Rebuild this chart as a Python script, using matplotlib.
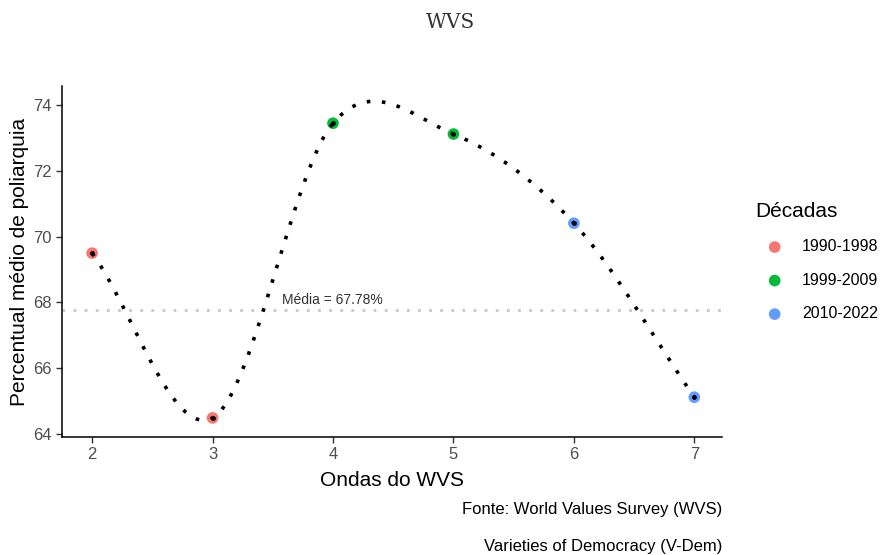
import numpy as np
import matplotlib.pyplot as plt

plt.rcParams["font.family"] = ["Liberation Sans", "DejaVu Sans"]

ondas = np.array([2, 3, 4, 5, 6, 7])
poliarquia = np.array([69.50, 64.49, 73.45, 73.12, 70.41, 65.12])
decadas = ["1990-1998", "1990-1998", "1999-2009", "1999-2009", "2010-2022", "2010-2022"]
media = 67.78
cores = {"1990-1998": "#F8766D", "1999-2009": "#00BA38", "2010-2022": "#619CFF"}


def catmull_rom(x, y, n=40):
    # spline que passa pelos pontos (como geom_xspline)
    xp = np.r_[2 * x[0] - x[1], x, 2 * x[-1] - x[-2]]
    yp = np.r_[2 * y[0] - y[1], y, 2 * y[-1] - y[-2]]
    xs, ys = [], []
    for i in range(1, len(xp) - 2):
        m0 = (yp[i + 1] - yp[i - 1]) / (xp[i + 1] - xp[i - 1])
        m1 = (yp[i + 2] - yp[i]) / (xp[i + 2] - xp[i])
        h = xp[i + 1] - xp[i]
        t = np.linspace(0, 1, n, endpoint=False)
        h00 = 2 * t**3 - 3 * t**2 + 1
        h10 = t**3 - 2 * t**2 + t
        h01 = -2 * t**3 + 3 * t**2
        h11 = t**3 - t**2
        xs.append(xp[i] + t * h)
        ys.append(h00 * yp[i] + h10 * h * m0 + h01 * yp[i + 1] + h11 * h * m1)
    xs.append([x[-1]])
    ys.append([y[-1]])
    return np.concatenate(xs), np.concatenate(ys)


fig = plt.figure(figsize=(8.83, 5.55), dpi=100)
ax = fig.add_axes([0.0702, 0.2126, 0.7475, 0.6324])

ax.axhline(media, color="#C8C8C8", lw=2.0, linestyle=(0, (1, 3)), zorder=1)
ax.text(3.58, media + 0.07, "Média = 67.78%", fontsize=10, color="#333333",
        ha="left", va="bottom", zorder=2)

for d in cores:
    sel = [i for i, dd in enumerate(decadas) if dd == d]
    ax.scatter(ondas[sel], poliarquia[sel], s=70, color=cores[d], label=d,
               zorder=3, edgecolors="none")
ax.scatter(ondas, poliarquia, s=6, color="black", zorder=5)

xs, ys = catmull_rom(ondas, poliarquia)
ax.plot(xs, ys, color="black", lw=2.6, linestyle=(0, (1, 3.2)), zorder=4)

ax.set_xlim(1.75, 7.23)
ax.set_ylim(63.91, 74.58)
ax.set_xticks(ondas)
ax.set_yticks([64, 66, 68, 70, 72, 74])
for s in ["top", "right"]:
    ax.spines[s].set_visible(False)
for s in ["left", "bottom"]:
    ax.spines[s].set_linewidth(1.1)
ax.tick_params(length=4, width=1, color="#333333", labelsize=12, labelcolor="#4D4D4D")

ax.set_xlabel("Ondas do WVS", fontsize=15, labelpad=6)
ax.set_ylabel("Percentual médio de poliarquia", fontsize=15, labelpad=3)

leg = ax.legend(title="Décadas", loc="center left", bbox_to_anchor=(1.029, 0.5),
                frameon=False, fontsize=11.5, title_fontsize=15,
                labelspacing=1.16, handlelength=2.4, handletextpad=0.5,
                markerscale=1.0)
leg._legend_box.align = "left"

fig.text(0.51, 0.96, "WVS", fontsize=14.5, family="DejaVu Serif",
         color="#333333", ha="center", va="center")
fig.text(0.8177, 0.082, "Fonte: World Values Survey (WVS)", fontsize=12,
         ha="right", va="center")
fig.text(0.8177, 0.016, "Varieties of Democracy (V-Dem)", fontsize=12,
         ha="right", va="center")

fig.savefig("out.png", dpi=100)
